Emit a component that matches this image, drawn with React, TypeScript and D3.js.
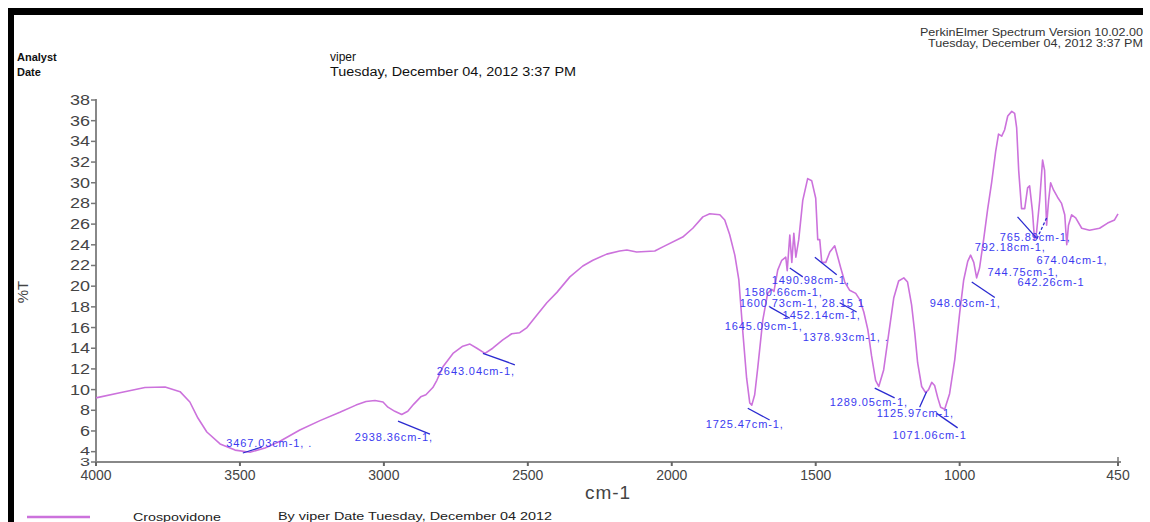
import React from "react"
import * as d3 from "d3"

const width = 1150
const height = 522

// spectrum: wavenumber (cm-1) and %T
const wavenumbers = [
  4000, 3917, 3830, 3760, 3708, 3674, 3646, 3615, 3569, 3517, 3465, 3413, 3361, 3292, 3222, 3153,
  3097, 3062, 3031, 3003, 2986, 2962, 2938, 2917, 2896, 2872, 2854, 2830, 2816, 2795, 2760, 2726,
  2701, 2677, 2649, 2622, 2587, 2556, 2528, 2503, 2469, 2434, 2399, 2354, 2309, 2274, 2226, 2181,
  2156, 2122, 2059, 2031, 1962, 1927, 1892, 1868, 1833, 1816, 1799, 1781, 1767, 1753, 1740, 1729,
  1722, 1712, 1701, 1684, 1667, 1653, 1645, 1632, 1618, 1604, 1599, 1590, 1583, 1576, 1569, 1559,
  1545, 1528, 1514, 1500, 1493, 1486, 1479, 1465, 1451, 1434, 1424, 1413, 1399, 1382, 1361, 1347,
  1333, 1319, 1306, 1292, 1281, 1264, 1247, 1229, 1212, 1194, 1181, 1167, 1156, 1146, 1132, 1118,
  1108, 1097, 1087, 1076, 1066, 1052, 1035, 1017, 1000, 986, 972, 962, 951, 941, 931, 917,
  903, 889, 875, 865, 854, 844, 833, 819, 809, 802, 795, 785, 774, 764, 757, 747,
  740, 733, 722, 712, 705, 698, 691, 684, 674, 660, 646, 635, 628, 622, 611, 597,
  576, 549, 514, 486, 462, 450,
]
const transmittance = [
  9.2, 9.7, 10.2, 10.25, 9.8, 8.8, 7.25, 5.9, 4.75, 4.15, 3.95, 4.35, 5.0, 6.1, 7.0, 7.8,
  8.5, 8.85, 8.95, 8.8, 8.3, 7.9, 7.6, 7.9, 8.6, 9.3, 9.5, 10.2, 10.9, 12.2, 13.5, 14.2,
  14.4, 14.0, 13.5, 14.0, 14.8, 15.4, 15.5, 16.0, 17.2, 18.4, 19.4, 20.9, 21.95, 22.5, 23.1, 23.4,
  23.5, 23.3, 23.4, 23.8, 24.75, 25.6, 26.7, 27.0, 26.9, 26.4, 25.0, 23.0, 20.6, 15.5, 11.1, 8.7,
  8.5, 9.5, 12.2, 16.7, 19.3, 19.7, 19.5, 21.55, 22.5, 22.8, 21.5, 24.95, 22.3, 25.1, 22.8, 24.5,
  28.3, 30.4, 30.2, 28.5, 24.5, 24.5, 22.3, 22.3, 23.3, 23.9, 22.9, 21.75, 20.4, 19.6, 19.3, 18.7,
  17.5, 15.8, 13.25, 10.9, 10.3, 11.9, 15.3, 18.85, 20.5, 20.8, 20.4, 18.2, 15.5, 12.6, 10.3, 9.7,
  10.0, 10.7, 10.4, 9.2, 8.3, 8.1, 9.6, 12.9, 17.4, 20.6, 22.4, 23.0, 22.3, 20.8, 21.75, 24.45,
  27.4, 30.0, 33.0, 34.7, 34.5, 35.1, 36.45, 36.9, 36.7, 35.3, 31.2, 27.5, 27.5, 29.5, 29.7, 27.2,
  24.5, 25.2, 28.3, 32.2, 31.2, 25.9, 28.3, 30.0, 29.3, 28.6, 28.0, 26.9, 24.0, 25.9, 26.9, 26.6,
  25.6, 25.4, 25.6, 26.1, 26.4, 27.0,
]

const xTicks = [4000, 3500, 3000, 2500, 2000, 1500, 1000, 450]
const yTicks = [3, 4, 6, 8, 10, 12, 14, 16, 18, 20, 22, 24, 26, 28, 30, 32, 34, 36, 38]

// peak labels, with the label's anchor in data units (cm-1, %T)
const peakLabels = [
  "3467.03cm-1, .", "2938.36cm-1,", "2643.04cm-1,", "1725.47cm-1,", "1645.09cm-1,",
  "1600.73cm-1, 28.15 1", "1580.66cm-1,", "1490.98cm-1,", "1452.14cm-1,", "1378.93cm-1, .",
  "1289.05cm-1,", "1125.97cm-1,", "1071.06cm-1", "948.03cm-1,", "765.89cm-1,",
  "792.18cm-1,", "674.04cm-1,", "744.75cm-1,", "642.26cm-1",
]
const labelWn = [
  3548, 3101, 2816, 1882, 1816, 1764, 1747, 1653, 1615, 1545,
  1451, 1288, 1233, 1104, 861, 948, 733, 903, 799,
]
const labelT = [
  4.45, 5.03, 11.4, 6.3, 15.8, 18.0, 19.05, 20.2, 16.8, 14.7,
  8.4, 7.35, 5.2, 18.0, 24.4, 23.4, 22.1, 21.0, 20.0,
]
// leader segments [wn1, T1, wn2, T2]
const leaders = [
  [3490, 3.87, 3424, 4.45], [2951, 6.96, 2840, 5.7], [2656, 13.5, 2545, 12.4],
  [1736, 8.2, 1660, 7.06], [1503, 22.8, 1427, 21.1], [1590, 21.75, 1545, 20.9],
  [1660, 18.0, 1590, 16.9], [1417, 18.4, 1358, 17.5], [1295, 10.15, 1226, 9.2],
  [1080, 7.7, 1007, 6.3], [1139, 8.3, 1115, 9.8], [958, 20.4, 878, 18.9],
  [799, 26.7, 733, 24.65],
]

const font = "Arial, 'Liberation Sans', sans-serif"
const curveColor = "#cc72dc"
const labelColor = "#3a3af0"

export default function App() {
  const x = d3.scaleLinear().domain([4000, 450]).range([96, 1118])
  const y = d3.scaleLinear().domain([3, 38]).range([462, 100])
  const points = wavenumbers.map((w, i) => [w, transmittance[i]] as [number, number])
  const line = d3.line<[number, number]>().x(d => x(d[0])).y(d => y(d[1]))

  return (
    <div style={{ position: "absolute", left: 0, top: 0 }}>
      <svg width={width} height={height} style={{ display: "block", background: "#fff" }}>
        {/* black frame */}
        <rect x={8} y={8} width={1135} height={7} fill="#000" />
        <rect x={8} y={8} width={6} height={height - 8} fill="#000" />

        {/* header */}
        <g fontFamily={font} fill="#111">
          <text x={17} y={61} fontSize={11} fontWeight="bold">Analyst</text>
          <text x={17} y={76} fontSize={11} fontWeight="bold">Date</text>
          <text x={330} y={61} fontSize={12}>viper</text>
          <text x={330} y={76} fontSize={12.5} textLength={246} lengthAdjust="spacingAndGlyphs">Tuesday, December 04, 2012 3:37 PM</text>
          <text x={1143} y={36} fontSize={10} textAnchor="end" fill="#333" textLength={223} lengthAdjust="spacingAndGlyphs">PerkinElmer Spectrum Version 10.02.00</text>
          <text x={1143} y={47} fontSize={10} textAnchor="end" fill="#333" textLength={215} lengthAdjust="spacingAndGlyphs">Tuesday, December 04, 2012 3:37 PM</text>
        </g>

        {/* axes */}
        <g fontFamily={font} fill="#444">
          <line x1={96} x2={96} y1={99} y2={463} stroke="#888" strokeWidth={2} />
          <line x1={95} x2={1121} y1={462} y2={462} stroke="#888" strokeWidth={2} />
          {yTicks.map(t => (
            <g key={t}>
              <line x1={91} x2={96} y1={y(t)} y2={y(t)} stroke="#777" strokeWidth={1.5} />
              <text x={90} y={y(t) + (t === 3 ? 3.5 : t === 4 ? 3 : 5)} fontSize={t < 5 ? 10 : 14} textAnchor="end" textLength={String(t).length * 10} lengthAdjust="spacingAndGlyphs">{t}</text>
            </g>
          ))}
          {xTicks.map(t => (
            <g key={t}>
              <line x1={x(t)} x2={x(t)} y1={462} y2={466} stroke="#666" strokeWidth={2} />
              <text x={x(t)} y={480} fontSize={14} textAnchor="middle">{t}</text>
            </g>
          ))}
          <line x1={x(450)} x2={x(450)} y1={457} y2={462} stroke="#777" strokeWidth={1.5} />
          <text x={608} y={499} fontSize={19} textAnchor="middle" letterSpacing={1}>cm-1</text>
          <text transform="translate(28,292) rotate(-90)" fontSize={15} textAnchor="middle">%T</text>
        </g>

        {/* spectrum */}
        <path d={line(points) ?? ""} fill="none" stroke={curveColor} strokeWidth={1.6} strokeLinejoin="round" />

        {/* peak annotations */}
        {leaders.map((l, i) => (
          <line key={i} x1={x(l[0])} y1={y(l[1])} x2={x(l[2])} y2={y(l[3])} stroke="#2a2ad0" strokeWidth={1.3} />
        ))}
        <line x1={x(698)} y1={y(26.6)} x2={x(733)} y2={y(24.5)} stroke="#2a2ad0" strokeWidth={1.3} strokeDasharray="3,2" />
        <g fontFamily={font} fontSize={11} fill={labelColor} letterSpacing={0.9}>
          {peakLabels.map((s, i) => (
            <text key={s} x={x(labelWn[i])} y={y(labelT[i])}>{s}</text>
          ))}
        </g>

        {/* legend */}
        <line x1={27} x2={90} y1={517} y2={517} stroke={curveColor} strokeWidth={2.5} />
        <g fontFamily={font} fill="#222">
          <text x={133} y={521} fontSize={10} textLength={88} lengthAdjust="spacingAndGlyphs">Crospovidone</text>
          <text x={278} y={520} fontSize={11} textLength={274} lengthAdjust="spacingAndGlyphs">By viper Date Tuesday, December 04 2012</text>
        </g>
      </svg>
    </div>
  )
}
